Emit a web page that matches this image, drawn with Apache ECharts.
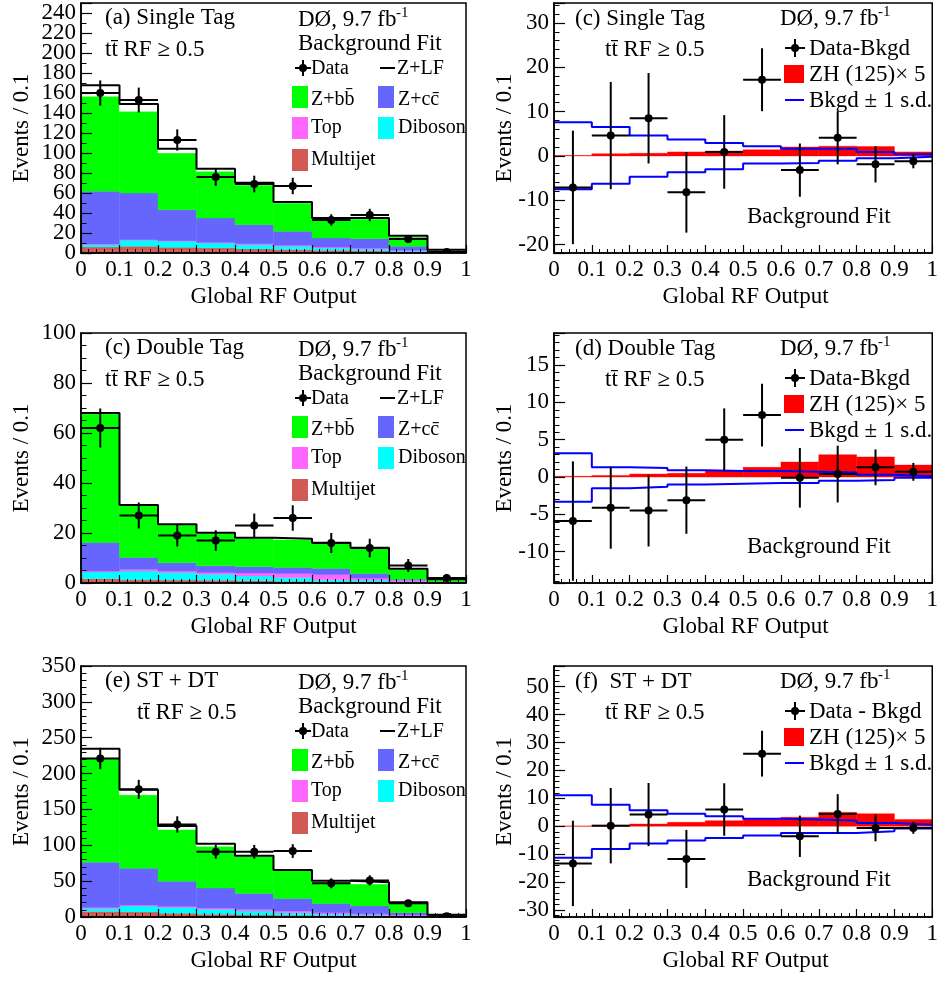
<!DOCTYPE html>
<html><head><meta charset="utf-8">
<script src="https://cdn.jsdelivr.net/npm/echarts@6/dist/echarts.min.js"></script>
<style>html,body{margin:0;padding:0;background:#fff}#c{width:941px;height:981px}</style>
</head><body><div id="c"></div><script>
// ---------- data ----------
const BIN_CENTERS = [0.05, 0.15, 0.25, 0.35, 0.45, 0.55, 0.65, 0.75, 0.85, 0.95];
const BIN_WIDTH = 0.1;

// (a) Single Tag stacked backgrounds (bottom -> top)
const ST_MULTIJET = [6.0, 6.7, 5.7, 5.0, 4.0, 3.3, 2.7, 2.3, 1.3, 0.7];
const ST_DIBOSON  = [2.3, 6.0, 6.0, 5.0, 4.3, 3.4, 2.3, 1.7, 0.7, 0.3];
const ST_TOP      = [0.7, 0.6, 0.6, 0.7, 1.0, 1.0, 1.0, 1.0, 0.7, 0.2];
const ST_ZCC      = [52.7, 46.7, 31.0, 24.3, 19.0, 14.0, 9.0, 9.3, 4.0, 0.5];
const ST_ZBB      = [95.0, 81.7, 56.7, 46.7, 39.7, 28.3, 18.3, 19.7, 9.3, 1.0];
const ST_ZLF      = [11.0, 7.3, 4.3, 2.6, 2.3, 1.0, 1.7, 1.0, 1.3, 0.6];
const ST_DATA     = [160, 153, 113, 76, 69, 67, 33, 38, 14, 1];
const ST_DATA_ERR = [12.6, 12.4, 10.6, 8.7, 8.3, 8.2, 5.7, 6.2, 3.7, 1.0];

// (c) Double Tag stacked backgrounds
const DT_MULTIJET = [1.7, 1.3, 1.2, 1.1, 0.9, 0.7, 0.5, 0.4, 0.3, 0.1];
const DT_DIBOSON  = [2.7, 3.5, 3.0, 2.4, 1.9, 1.5, 0.8, 0.7, 0.2, 0.1];
const DT_TOP      = [0.4, 0.7, 0.6, 0.7, 1.2, 1.6, 2.1, 0.9, 0.6, 0.2];
const DT_ZCC      = [11.4, 4.7, 3.3, 2.7, 2.5, 2.4, 2.4, 1.8, 0.4, 0.1];
const DT_ZBB      = [51.5, 20.8, 15.2, 13.0, 11.4, 11.3, 10.1, 10.1, 4.0, 0.8];
const DT_ZLF      = [0.3, 0.2, 0.2, 0.2, 0.2, 0.2, 0.2, 0.2, 0.2, 0.2];
const DT_DATA     = [62, 27, 19, 17, 23, 26, 16, 14, 7, 2];
const DT_DATA_ERR = [7.8, 5.2, 4.4, 4.1, 4.8, 5.1, 4.0, 3.7, 2.6, 1.4];

// (e) ST + DT stacked backgrounds
const SD_MULTIJET = [7.5, 7.0, 5.2, 3.8, 2.8, 2.3, 1.4, 0.9, 0.5, 0.2];
const SD_DIBOSON  = [4.2, 8.5, 7.9, 7.0, 5.7, 3.8, 2.4, 1.9, 0.9, 0.3];
const SD_TOP      = [1.4, 1.4, 1.5, 1.9, 2.3, 2.4, 2.3, 1.9, 1.4, 0.4];
const SD_ZCC      = [63.4, 51.1, 35.2, 27.7, 22.1, 17.3, 12.7, 10.8, 3.3, 0.5];
const SD_ZBB      = [145.5, 102.4, 72.2, 58.2, 51.6, 39.0, 30.5, 30.5, 14.1, 0.9];
const SD_ZLF      = [12.7, 7.1, 4.8, 3.7, 1.0, 0.9, 1.4, 2.5, 0.5, 0.7];
const SD_DATA     = [221, 178, 129, 91, 91, 92, 47, 51, 19, 1];
const SD_DATA_ERR = [15.0, 13.3, 11.4, 9.5, 9.5, 9.6, 6.9, 7.1, 4.4, 1.0];

// residual panels: data - bkgd, signal ZH x5, bkgd +-1 s.d.
const RES_ST      = [-7.1, 4.6, 8.5, -8.2, 0.9, 17.2, -3.2, 4.1, -1.9, -1.2];
const RES_ST_ERR  = [12.8, 12.1, 10.2, 9.1, 8.3, 7.1, 6.0, 6.0, 4.1, 1.6];
const SIG_ST      = [0.1, 0.5, 0.6, 0.9, 1.1, 1.4, 2.0, 2.2, 2.1, 0.9];
const UP_ST       = [7.6, 6.5, 4.6, 3.7, 2.9, 2.2, 1.6, 1.6, 0.9, 0.4];
const DN_ST       = [-7.5, -6.3, -4.7, -3.7, -3.0, -1.7, -1.6, -1.1, -0.5, -0.2];

const RES_DT      = [-5.9, -4.1, -4.5, -3.1, 5.0, 8.3, -0.1, 0.4, 1.3, 0.7];
const RES_DT_ERR  = [8.0, 5.5, 4.8, 4.5, 4.2, 4.2, 4.0, 3.8, 2.4, 1.2];
const SIG_DT      = [0.1, 0.2, 0.4, 0.5, 0.8, 1.3, 2.0, 3.0, 2.7, 1.6];
const UP_DT       = [3.2, 1.3, 1.2, 0.9, 0.8, 0.8, 0.7, 0.6, 0.3, 0.1];
const DN_DT       = [-3.3, -1.5, -1.3, -1.0, -0.9, -0.8, -0.8, -0.5, -0.4, -0.1];

const RES_SD      = [-13.3, 0.2, 4.2, -11.7, 6.0, 26.0, -3.6, 4.4, -0.6, -0.6];
const RES_SD_ERR  = [15.3, 13.5, 11.3, 10.4, 9.4, 8.2, 7.4, 7.1, 4.8, 2.1];
const SIG_SD      = [0.1, 0.4, 0.8, 1.4, 2.0, 2.6, 3.2, 5.0, 4.5, 2.4];
const UP_SD       = [11.1, 7.7, 5.7, 4.5, 3.6, 2.7, 2.4, 2.1, 1.2, 0.5];
const DN_SD       = [-11.3, -8.1, -6.2, -5.1, -4.2, -3.3, -2.4, -2.4, -1.8, -0.8];

// ---------- style ----------
const FONT = '"Liberation Serif","Times New Roman",serif';
const COLORS = { multijet: '#d25a55', diboson: '#00ffff', top: '#ff66ff', zcc: '#6666ff', zbb: '#00ff00', zlf: '#ffffff' };

const GRIDS = [
  { left: 81,  top: 3,   width: 385, height: 250 },
  { left: 554, top: 3,   width: 383, height: 250 },
  { left: 81,  top: 333, width: 385, height: 250 },
  { left: 554, top: 333, width: 383, height: 250 },
  { left: 81,  top: 666, width: 385, height: 251 },
  { left: 554, top: 666, width: 383, height: 251 }
];

const Y_AXES = [
  { min: -0.001, max: 250, splitNumber: 12, step: 20, minor: 2, showMin: false },
  { min: -21.9, max: 34.5, splitNumber: 5, step: 10, minor: 5, showMin: true },
  { min: 0, max: 100, interval: 20, step: 20, minor: 4, showMin: true },
  { min: -14.2, max: 19.3, splitNumber: 5, step: 5, minor: 5, showMin: true },
  { min: 0, max: 350, interval: 50, step: 50, minor: 5, showMin: true },
  { min: -32.5, max: 57.4, splitNumber: 9, step: 10, minor: 5, showMin: true }
];

function rectRender(params, api) {
  const p0 = api.coord([api.value(0), api.value(3)]);
  const p1 = api.coord([api.value(1), api.value(2)]);
  return { type: 'rect', shape: { x: p0[0], y: p0[1], width: p1[0] - p0[0], height: p1[1] - p0[1] },
           style: { fill: api.visual('color'), stroke: api.visual('color'), lineWidth: 0.4 } };
}
function errRender(params, api) {
  const x = api.value(0), y = api.value(1), e = api.value(2);
  const pc = api.coord([x, y]);
  const pl = api.coord([x - BIN_WIDTH / 2, y]), pr = api.coord([x + BIN_WIDTH / 2, y]);
  const pt = api.coord([x, y + e]), pb = api.coord([x, y - e]);
  return { type: 'group', children: [
    { type: 'line', shape: { x1: pl[0], y1: pl[1], x2: pr[0], y2: pr[1] }, style: { stroke: '#000', lineWidth: 2 } },
    { type: 'line', shape: { x1: pt[0], y1: pt[1], x2: pb[0], y2: pb[1] }, style: { stroke: '#000', lineWidth: 2 } },
    { type: 'circle', shape: { cx: pc[0], cy: pc[1], r: 4 }, style: { fill: '#000' } }
  ] };
}
function stepData(vals) {
  return BIN_CENTERS.map((c, i) => [c - BIN_WIDTH / 2, vals[i]]).concat([[BIN_CENTERS[9] + BIN_WIDTH / 2, vals[9]]]);
}

const series = [];
function addStack(gi, comps, colors) {
  let base = BIN_CENTERS.map(() => 0);
  comps.forEach((vals, k) => {
    const data = BIN_CENTERS.map((c, i) => [c - BIN_WIDTH / 2, c + BIN_WIDTH / 2, base[i], base[i] + vals[i]]);
    base = base.map((b, i) => b + vals[i]);
    series.push({ type: 'custom', xAxisIndex: gi, yAxisIndex: gi, renderItem: rectRender, clip: true, silent: true,
      itemStyle: { color: colors[k] }, encode: { x: [0, 1], y: [2, 3] }, data, z: 2 });
  });
  series.push({ type: 'line', xAxisIndex: gi, yAxisIndex: gi, step: 'end', symbol: 'none', silent: true,
    lineStyle: { color: '#000', width: 2 }, data: stepData(base), z: 3 });
}
function addData(gi, vals, errs) {
  series.push({ type: 'custom', xAxisIndex: gi, yAxisIndex: gi, renderItem: errRender, clip: true, silent: true,
    encode: { x: 0, y: 1 }, data: BIN_CENTERS.map((c, i) => [c, vals[i], errs[i]]), z: 5 });
}
function addResidual(gi, sig, up, dn, res, err) {
  series.push({ type: 'custom', xAxisIndex: gi, yAxisIndex: gi, renderItem: rectRender, clip: true, silent: true,
    itemStyle: { color: '#ff0000' }, encode: { x: [0, 1], y: [2, 3] },
    data: BIN_CENTERS.map((c, i) => [c - BIN_WIDTH / 2, c + BIN_WIDTH / 2, 0, sig[i]]), z: 2 });
  [up, dn].forEach(v => series.push({ type: 'line', xAxisIndex: gi, yAxisIndex: gi, step: 'end', symbol: 'none', silent: true,
    lineStyle: { color: '#0000ff', width: 2 }, data: stepData(v), z: 3 }));
  addData(gi, res, err);
}

const SC = [COLORS.multijet, COLORS.diboson, COLORS.top, COLORS.zcc, COLORS.zbb, COLORS.zlf];
addStack(0, [ST_MULTIJET, ST_DIBOSON, ST_TOP, ST_ZCC, ST_ZBB, ST_ZLF], SC);
addData(0, ST_DATA, ST_DATA_ERR);
addResidual(1, SIG_ST, UP_ST, DN_ST, RES_ST, RES_ST_ERR);
addStack(2, [DT_MULTIJET, DT_DIBOSON, DT_TOP, DT_ZCC, DT_ZBB, DT_ZLF], SC);
addData(2, DT_DATA, DT_DATA_ERR);
addResidual(3, SIG_DT, UP_DT, DN_DT, RES_DT, RES_DT_ERR);
addStack(4, [SD_MULTIJET, SD_DIBOSON, SD_TOP, SD_ZCC, SD_ZBB, SD_ZLF], SC);
addData(4, SD_DATA, SD_DATA_ERR);
addResidual(5, SIG_SD, UP_SD, DN_SD, RES_SD, RES_SD_ERR);

const xAxes = GRIDS.map((g, gi) => ({
  type: 'value', gridIndex: gi, min: 0, max: 1, interval: 0.1, z: 10,
  axisLine: { show: true, onZero: false, lineStyle: { color: '#000', width: 1.5 } },
  axisTick: { show: true, inside: true, length: 8, lineStyle: { color: '#000', width: 1.2 } },
  minorTick: { show: true, splitNumber: 5, length: 4, lineStyle: { color: '#000', width: 1 } },
  splitLine: { show: false }, minorSplitLine: { show: false },
  axisLabel: { fontFamily: FONT, fontSize: 23, color: '#000', margin: 5, hideOverlap: false,
    formatter: v => String(Math.round(v * 10) / 10) }
}));
const yAxes = Y_AXES.map((a, gi) => {
  const o = {
    type: 'value', gridIndex: gi, min: a.min, max: a.max, z: 10,
    axisLine: { show: true, onZero: false, lineStyle: { color: '#000', width: 1.5 } },
    axisTick: { show: true, inside: true, length: 11, lineStyle: { color: '#000', width: 1.2 } },
    minorTick: { show: true, splitNumber: a.minor, length: 5.5, lineStyle: { color: '#000', width: 1 } },
    splitLine: { show: false }, minorSplitLine: { show: false },
    axisLabel: { color: '#000', margin: 5, hideOverlap: false, showMinLabel: a.showMin, showMaxLabel: true,
      rich: { v: { fontFamily: FONT, fontSize: 23, lineHeight: 14, height: 14, color: '#000' } },
      formatter: v => (Math.abs(v / a.step - Math.round(v / a.step)) < 1e-6 ? '{v|' + String(Math.abs(Math.round(v)) < 1e-9 ? 0 : Math.round(v)) + '}' : '') }
  };
  if (a.interval) o.interval = a.interval; else o.splitNumber = a.splitNumber;
  return o;
});

// ---------- annotations ----------
const graphics = [];
function txt(x, y, s, size, extra) {
  graphics.push(Object.assign({ type: 'text', x, y, z: 100, silent: true,
    style: { text: s, font: size + 'px ' + FONT, fill: '#000', textAlign: 'left', textVerticalAlign: 'middle' } }, extra || {}));
}
function rect(x, y, w, h, color) {
  graphics.push({ type: 'rect', z: 100, silent: true, shape: { x, y, width: w, height: h }, style: { fill: color } });
}
function seg(x1, y1, x2, y2, color, w) {
  graphics.push({ type: 'line', z: 100, silent: true, shape: { x1, y1, x2, y2 }, style: { stroke: color, lineWidth: w } });
}
function dot(cx, cy) {
  graphics.push({ type: 'circle', z: 100, silent: true, shape: { cx, cy, r: 4 }, style: { fill: '#000' } });
}
function lumi(x, y) {
  txt(x, y, 'DØ, 9.7 fb', 23);
  txt(x + 98, y - 7, '-1', 15);
}
function stackAnnot(g, label, ttx) {
  const gx = g.left, gy = g.top;
  txt(gx + 24, gy + 15, label, 23);
  txt(ttx, gy + 47, 'tt̄ RF ≥ 0.5', 23);
  lumi(gx + 217, gy + 17);
  txt(gx + 217, gy + 41, 'Background Fit', 23);
  // Data
  seg(gx + 214, gy + 65, gx + 230, gy + 65, '#000', 2);
  seg(gx + 222, gy + 57, gx + 222, gy + 73, '#000', 2);
  dot(gx + 222, gy + 65);
  txt(gx + 230, gy + 66, 'Data', 20);
  seg(gx + 299, gy + 65, gx + 314, gy + 65, '#000', 2);
  txt(gx + 316, gy + 66, 'Z+LF', 20);
  rect(gx + 211, gy + 83, 16, 22, COLORS.zbb);
  txt(gx + 230, gy + 97, 'Z+bb̄', 20);
  rect(gx + 297, gy + 83, 16, 22, COLORS.zcc);
  txt(gx + 317, gy + 97, 'Z+cc̄', 20);
  rect(gx + 211, gy + 114, 16, 22, COLORS.top);
  txt(gx + 230, gy + 125, 'Top', 20);
  rect(gx + 297, gy + 114, 16, 22, COLORS.diboson);
  txt(gx + 317, gy + 125, 'Diboson', 20);
  rect(gx + 211, gy + 146, 16, 22, COLORS.multijet);
  txt(gx + 230, gy + 157, 'Multijet', 20);
}
function resAnnot(g, label, dataLabel) {
  const gx = g.left, gy = g.top;
  txt(gx + 21, gy + 16, label, 23);
  txt(gx + 51, gy + 47, 'tt̄ RF ≥ 0.5', 23);
  lumi(gx + 226, gy + 16);
  seg(gx + 231, gy + 45, gx + 251, gy + 45, '#000', 2);
  seg(gx + 241, gy + 36, gx + 241, gy + 54, '#000', 2);
  dot(gx + 241, gy + 45);
  txt(gx + 255, gy + 46, dataLabel, 23);
  rect(gx + 230, gy + 62, 20, 18, '#ff0000');
  txt(gx + 255, gy + 72, 'ZH (125)× 5', 23);
  seg(gx + 231, gy + 97, gx + 250, gy + 97, '#0000ff', 2);
  txt(gx + 255, gy + 98, 'Bkgd ± 1 s.d.', 23);
  txt(gx + 193, gy + 214, 'Background Fit', 23);
}
stackAnnot(GRIDS[0], '(a) Single Tag', GRIDS[0].left + 24);
resAnnot(GRIDS[1], '(c) Single Tag', 'Data-Bkgd');
stackAnnot(GRIDS[2], '(c) Double Tag', GRIDS[2].left + 24);
resAnnot(GRIDS[3], '(d) Double Tag', 'Data-Bkgd');
stackAnnot(GRIDS[4], '(e) ST + DT', GRIDS[4].left + 56);
resAnnot(GRIDS[5], '(f)  ST + DT', 'Data - Bkgd');

// axis titles
GRIDS.forEach((g, gi) => {
  graphics.push({ type: 'text', z: 100, silent: true, x: g.left + g.width / 2, y: g.top + g.height + 44,
    style: { text: 'Global RF Output', font: '23px ' + FONT, fill: '#000', textAlign: 'center', textVerticalAlign: 'middle' } });
  const tx = gi % 2 === 0 ? g.left - 59 : g.left - 49;
  graphics.push({ type: 'text', z: 100, silent: true, x: tx, y: g.top + g.height / 2, rotation: Math.PI / 2,
    style: { text: 'Events / 0.1', font: '23px ' + FONT, fill: '#000', textAlign: 'center', textVerticalAlign: 'middle' } });
});

const chart = echarts.init(document.getElementById('c'), null, { renderer: 'canvas' });
chart.setOption({
  animation: false,
  backgroundColor: '#fff',
  grid: GRIDS.map(g => Object.assign({ show: true, borderColor: '#000', borderWidth: 1.5, backgroundColor: 'transparent', z: 10 }, g)),
  xAxis: xAxes,
  yAxis: yAxes,
  series,
  graphic: graphics
});
</script></body></html>
